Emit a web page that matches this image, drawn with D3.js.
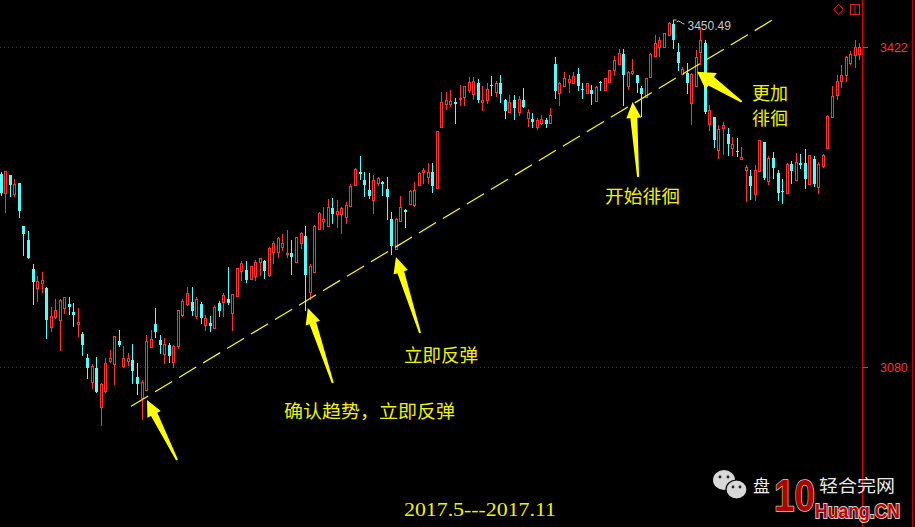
<!DOCTYPE html>
<html><head><meta charset="utf-8">
<script src="https://cdn.jsdelivr.net/npm/d3@7"></script>
<style>html,body{margin:0;padding:0;background:#000;overflow:hidden}</style>
</head><body>
<svg id="c" width="915" height="527"></svg>
<script>
// ---- data (Shanghai Composite daily candles) ----
const opens  = [3286,3266,3285,3265,3277,3231,3216,3185,3164,3170,3164,3123,3133,3130,3143,3147,3139,3126,3115,3090,
3064,3079,3037,3054,3086,3083,3108,3081,3086,3088,3069,3047,3055,3101,3126,3109,3094,3103,3085,3102,
3136,3147,3149,3134,3147,3125,3127,3122,3148,3149,3153,3138,3156,3183,3184,3174,3177,3192,3193,3178,
3203,3203,3208,3201,3202,3192,3212,3220,3160,3181,3227,3236,3231,3250,3244,3244,3240,3252,3275,3288,
3280,3269,3258,3277,3278,3270,3238,3206,3236,3248,3254,3253,3275,3288,3283,3288,3271,3336,3361,3361,
3363,3366,3369,3376,3372,3383,3363,3365,3381,3374,3383,3365,3352,3365,3352,3365,3346,3345,3336,3341,
3344,3341,3404,3373,3380,3385,3384,3393,3377,3373,3376,3364,3385,3376,3385,3397,3404,3415,3380,3394,
3392,3378,3369,3390,3412,3422,3422,3435,3447,3417,3393,3394,3362,3380,3417,3426,3340,3347,3312,3335,
3329,3314,3311,3302,3291,3284,3265,3290,3320,3279,3303,3287,3268,3266,3297,3280,3298,3298,3276,3302,
3272,3295,3314,3347,3371,3386,3392,3405,3413,3415];
const highs  = [3288,3290,3285,3281,3277,3231,3225,3190,3177,3181,3165,3144,3153,3153,3155,3155,3148,3143,3117,3094,
3083,3091,3063,3090,3098,3113,3120,3102,3095,3105,3084,3066,3114,3120,3143,3114,3111,3106,3103,3141,
3153,3166,3166,3155,3149,3136,3135,3146,3151,3159,3187,3158,3186,3193,3193,3188,3194,3197,3194,3208,
3215,3219,3222,3226,3216,3219,3224,3231,3190,3232,3246,3251,3260,3261,3258,3251,3256,3276,3293,3306,
3288,3287,3285,3283,3279,3283,3246,3239,3263,3249,3269,3278,3288,3293,3298,3298,3332,3374,3374,3376,
3367,3381,3380,3390,3390,3388,3380,3384,3391,3386,3392,3366,3371,3371,3370,3378,3356,3351,3346,3349,
3346,3357,3411,3385,3395,3392,3395,3400,3384,3383,3381,3380,3386,3389,3397,3412,3420,3420,3396,3409,
3392,3380,3389,3416,3435,3433,3437,3449,3450.49,3426,3401,3405,3394,3419,3442,3430,3360,3347,3339,3342,
3335,3326,3325,3315,3296,3291,3296,3323,3321,3305,3310,3291,3281,3298,3300,3309,3308,3313,3307,3305,
3299,3308,3349,3380,3392,3403,3412,3418,3430,3426];
const lows   = [3264,3245,3263,3262,3240,3200,3197,3147,3149,3159,3111,3117,3131,3097,3137,3137,3124,3112,3093,3068,
3057,3053,3017,3052,3084,3061,3102,3079,3081,3063,3051,3023,3054,3100,3112,3095,3083,3085,3079,3099,
3133,3145,3136,3131,3127,3118,3119,3121,3135,3133,3147,3119,3156,3172,3171,3173,3172,3177,3175,3176,
3190,3196,3204,3196,3179,3191,3206,3141,3152,3181,3226,3226,3230,3234,3229,3222,3233,3251,3274,3281,
3263,3261,3244,3273,3264,3238,3201,3205,3235,3230,3253,3251,3273,3276,3276,3267,3270,3335,3355,3358,
3341,3359,3359,3373,3365,3363,3354,3361,3371,3369,3363,3346,3351,3345,3348,3358,3336,3336,3333,3339,
3337,3340,3368,3359,3379,3373,3383,3376,3367,3373,3361,3364,3376,3375,3384,3391,3403,3360,3376,3392,
3374,3348,3368,3389,3411,3411,3422,3434,3421,3397,3392,3373,3339,3379,3403,3351,3332,3315,3302,3307,
3307,3305,3305,3301,3256,3260,3257,3289,3281,3274,3282,3259,3255,3265,3277,3279,3293,3271,3275,3273,
3265,3293,3313,3346,3365,3378,3385,3403,3400,3408];
const closes = [3266,3289,3275,3276,3247,3222,3197,3171,3172,3173,3130,3135,3141,3152,3155,3144,3136,3128,3104,3079,
3081,3053,3062,3084,3090,3113,3104,3090,3090,3076,3062,3064,3108,3110,3117,3103,3105,3092,3102,3141,
3151,3159,3140,3153,3132,3132,3124,3144,3140,3157,3148,3158,3186,3191,3173,3188,3192,3196,3183,3207,
3213,3218,3212,3202,3198,3219,3223,3178,3188,3231,3245,3238,3251,3244,3247,3250,3253,3273,3292,3286,
3274,3263,3280,3282,3276,3262,3209,3238,3251,3246,3268,3269,3287,3291,3288,3273,3332,3363,3365,3364,
3361,3367,3380,3385,3386,3365,3365,3377,3380,3384,3372,3354,3363,3357,3366,3358,3353,3342,3344,3345,
3340,3349,3375,3383,3389,3388,3391,3380,3376,3383,3372,3379,3383,3389,3397,3408,3416,3392,3395,3396,
3384,3372,3389,3415,3426,3430,3437,3448,3430,3405,3399,3383,3393,3411,3430,3353,3355,3323,3334,3339,
3318,3318,3310,3304,3294,3273,3291,3323,3282,3303,3293,3266,3267,3297,3289,3299,3296,3281,3307,3276,
3297,3307,3348,3370,3386,3392,3411,3415,3422,3422];
const axisTicks = [3080, 3422];
const trendLine = [[28.7, 3038], [169.9, 3451]];           // [candle index, price]
const arrows = [ // tip [index, price] -> tail [index, price]
  {tip:[32.2,3044.7], tail:[38.8,2980.6]},
  {tip:[67.6,3143.1], tail:[73.1,3062.9]},
  {tip:[87.0,3197.6], tail:[92.3,3116.3]},
  {tip:[139.1,3363.2], tail:[140.3,3283.1]},
  {tip:[153.3,3395.6], tail:[163.1,3363.5], wide:true}
];
const labels = ["确认趋势，立即反弹", "立即反弹", "开始徘徊", "更加", "徘徊"];
const periodLabel = "2017.5---2017.11";

// ---- drawing ----
const W = 915, H = 527;
const RED = "#ff3232", CYAN = "#54fcfc", YEL = "#ffff00";
const svg = d3.select("#c");
svg.append("rect").attr("width", W).attr("height", H).attr("fill", "#000");

const x = d3.scaleLinear().domain([0, opens.length - 1]).range([0.7, 859.3]);
const y = d3.scaleLinear().domain([3080, 3422]).range([367, 47]);

// grid dotted lines
svg.append("g").selectAll("line").data(axisTicks).join("line")
  .attr("x1", 0).attr("x2", 862).attr("y1", d => Math.round(y(d)) + 0.5).attr("y2", d => Math.round(y(d)) + 0.5)
  .attr("stroke", "#9a0000").attr("stroke-dasharray", "1,3");

// frame lines
svg.append("line").attr("x1", 862.5).attr("x2", 862.5).attr("y1", 0).attr("y2", H).attr("stroke", "#e00000");
svg.append("line").attr("x1", 912.5).attr("x2", 912.5).attr("y1", 0).attr("y2", H).attr("stroke", "#c00000");

// right axis
const ax = svg.append("g").attr("transform", "translate(863,0)")
  .call(d3.axisRight(y).tickValues(axisTicks).tickSize(5).tickPadding(12).tickFormat(d3.format("d")));
ax.select(".domain").remove();
ax.selectAll(".tick line").attr("stroke", RED);
ax.selectAll(".tick text").attr("fill", RED).attr("font-family", "Liberation Sans, Arial, sans-serif").attr("font-size", 12.5);

// candles
const data = opens.map((o, i) => ({i, o, h: highs[i], l: lows[i], c: closes[i]}));
const cg = svg.append("g").attr("shape-rendering", "crispEdges");
data.forEach(d => {
  const cx = Math.round(x(d.i));
  const up = d.c >= d.o;
  const col = up ? RED : CYAN;
  const top = Math.round(y(Math.max(d.o, d.c))), bot = Math.round(y(Math.min(d.o, d.c)));
  const hy = Math.round(y(d.h)), ly = Math.round(y(d.l));
  if (up) {
    if (hy < top) cg.append("line").attr("x1", cx + 0.5).attr("x2", cx + 0.5).attr("y1", hy).attr("y2", top).attr("stroke", col);
    if (ly > bot) cg.append("line").attr("x1", cx + 0.5).attr("x2", cx + 0.5).attr("y1", bot).attr("y2", ly).attr("stroke", col);
    cg.append("rect").attr("x", cx - 0.5).attr("y", top + 0.5).attr("width", 2).attr("height", Math.max(bot - top, 1))
      .attr("fill", "none").attr("stroke", col);
  } else {
    cg.append("line").attr("x1", cx + 0.5).attr("x2", cx + 0.5).attr("y1", hy).attr("y2", ly + 1).attr("stroke", col);
    cg.append("rect").attr("x", cx - 1).attr("y", top).attr("width", 3).attr("height", Math.max(bot - top, 1)).attr("fill", col);
  }
});

// max high marker
const maxI = d3.maxIndex(highs);
const mx = Math.round(x(maxI)) + 0.5, my = Math.round(y(highs[maxI]));
svg.append("path").attr("d", `M${mx},${my + 5} V${my} H${mx + 3} M${mx + 3},${my + 2} q2,-2 4,0 t4,2`)
  .attr("fill", "none").attr("stroke", "#c8c8c8");
svg.append("text").attr("x", mx + 14).attr("y", my + 9.5).text(d3.format(".2f")(highs[maxI]))
  .attr("fill", "#c8c8c8").attr("font-family", "Liberation Sans, Arial, sans-serif").attr("font-size", 12);

// trend line
svg.append("line")
  .attr("x1", x(trendLine[0][0])).attr("y1", y(trendLine[0][1]))
  .attr("x2", x(trendLine[1][0])).attr("y2", y(trendLine[1][1]))
  .attr("stroke", YEL).attr("stroke-width", 1.2).attr("stroke-dasharray", "20,8");

// arrows
function arrowPath(tx, ty, ex, ey, L, Wd, w, t) {
  const dx = ex - tx, dy = ey - ty, len = Math.hypot(dx, dy), ux = dx / len, uy = dy / len, px = -uy, py = ux;
  const nx = tx + ux * L, ny = ty + uy * L;
  const pts = [[tx, ty], [nx + px * Wd, ny + py * Wd], [nx + px * w, ny + py * w], [ex + px * t, ey + py * t],
               [ex - px * t, ey - py * t], [nx - px * w, ny - py * w], [nx - px * Wd, ny - py * Wd]];
  return "M" + pts.map(p => p[0].toFixed(1) + "," + p[1].toFixed(1)).join("L") + "Z";
}
svg.append("g").selectAll("path").data(arrows).join("path")
  .attr("d", a => arrowPath(x(a.tip[0]), y(a.tip[1]), x(a.tail[0]), y(a.tail[1]),
                            a.wide ? 17 : 16, a.wide ? 10 : 7.5, a.wide ? 5 : 3.5, 1))
  .attr("fill", YEL);

// annotation texts
const labelPos = [[284, 418, 171], [404, 362, 74], [605, 203, 75], [752, 100, 36], [752, 125, 36]];
svg.append("g").selectAll("text").data(labels).join("text")
  .attr("x", (d, i) => labelPos[i][0]).attr("y", (d, i) => labelPos[i][1])
  .attr("textLength", (d, i) => labelPos[i][2]).attr("lengthAdjust", "spacingAndGlyphs")
  .attr("font-family", "Noto Sans CJK SC, sans-serif").attr("font-size", 18.5)
  .attr("fill", "#f2f200").text(d => d);

svg.append("text").attr("x", 404).attr("y", 515.5).attr("textLength", 152).attr("lengthAdjust", "spacingAndGlyphs")
  .attr("font-family", "Liberation Serif, serif").attr("font-size", 19).attr("fill", "#f2f200").text(periodLabel);

// top-right icons
svg.append("path").attr("d", "M838.5,4.5 L843.5,9.5 L838.5,14.5 L833.5,9.5 Z").attr("fill", "none").attr("stroke", "#e02020");
svg.append("rect").attr("x", 850.5).attr("y", 4.5).attr("width", 9).attr("height", 10).attr("fill", "none").attr("stroke", "#e02020");
svg.append("line").attr("x1", 855).attr("x2", 855).attr("y1", 4.5).attr("y2", 14.5).attr("stroke", "#e02020");

// watermark
const wm = svg.append("g");
wm.append("ellipse").attr("cx", 724).attr("cy", 480).attr("rx", 11).attr("ry", 10).attr("fill", "#d8d8d8");
wm.append("ellipse").attr("cx", 736.5).attr("cy", 489.5).attr("rx", 10.5).attr("ry", 9.5).attr("fill", "#d8d8d8").attr("stroke", "#000").attr("stroke-width", 1.2);
[[720, 477], [728, 477], [733, 487], [740, 487]].forEach(p => wm.append("circle").attr("cx", p[0]).attr("cy", p[1]).attr("r", 1.4).attr("fill", "#222"));
wm.append("text").attr("x", 753).attr("y", 492).attr("font-family", "Noto Sans CJK SC, sans-serif").attr("font-size", 17)
  .attr("fill", "#f0f0f0").text("盘");
wm.append("text").attr("x", 819).attr("y", 492).attr("font-family", "Noto Sans CJK SC, sans-serif").attr("font-size", 17)
  .attr("fill", "#e8e8e8").text("轻合完网").attr("textLength", 76).attr("lengthAdjust", "spacingAndGlyphs");
wm.append("text").attr("x", 774).attr("y", 511).attr("font-family", "Liberation Sans, Arial, sans-serif").attr("font-weight", "bold")
  .attr("font-size", 44).attr("textLength", 41).attr("lengthAdjust", "spacingAndGlyphs")
  .attr("fill", "#b00000").attr("stroke", "#d0d0d0").attr("stroke-width", 1.5).attr("paint-order", "stroke").text("10");
wm.append("text").attr("x", 815).attr("y", 518).attr("font-family", "Liberation Sans, Arial, sans-serif").attr("font-weight", "bold")
  .attr("font-size", 20).attr("textLength", 85).attr("lengthAdjust", "spacingAndGlyphs")
  .attr("fill", "#c00000").attr("stroke", "#d0d0d0").attr("stroke-width", 2).attr("paint-order", "stroke").text("Huang.CN");
</script>
</body></html>
